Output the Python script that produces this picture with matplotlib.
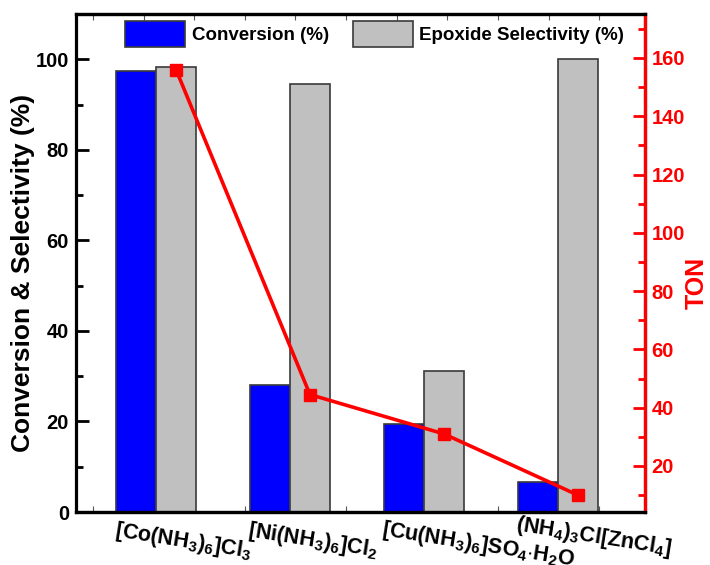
import numpy as np
import matplotlib
matplotlib.use("Agg")
import matplotlib.pyplot as plt
from matplotlib.ticker import MultipleLocator, FixedLocator

plt.rcParams['font.family'] = ['Liberation Sans', 'DejaVu Sans']
plt.rcParams['font.weight'] = 'bold'
plt.rcParams['mathtext.fontset'] = 'custom'
plt.rcParams['mathtext.rm'] = 'Liberation Sans:weight=bold'
plt.rcParams['mathtext.bf'] = 'Liberation Sans:weight=bold'
plt.rcParams['mathtext.it'] = 'Liberation Sans:weight=bold'
plt.rcParams['mathtext.sf'] = 'Liberation Sans:weight=bold'
plt.rcParams['mathtext.default'] = 'bf'

# catalysts and measured values
catalysts = [r'$\mathbf{[Co(NH_3)_6]Cl_3}$', r'$\mathbf{[Ni(NH_3)_6]Cl_2}$',
             r'$\mathbf{[Cu(NH_3)_6]SO_4{\cdot}H_2O}$',
             r'$\mathbf{(NH_4)_3Cl[ZnCl_4]}$']
conversion = [97.4, 28.0, 19.4, 6.6]
selectivity = [98.2, 94.5, 31.1, 100.0]
ton = [156, 44.5, 31, 10]

x = np.arange(len(catalysts))
w = 0.3

fig = plt.figure(figsize=(7.1, 5.65), dpi=100)
ax = fig.add_axes([0.107, 0.0938, 0.801, 0.8815])

ax.bar(x - w / 2, conversion, w, color='#0000FF', edgecolor='#3a3a3a',
       linewidth=1.2, label='Conversion (%)', zorder=2)
ax.bar(x + w / 2, selectivity, w, color='#C0C0C0', edgecolor='#3a3a3a',
       linewidth=1.2, label='Epoxide Selectivity (%)', zorder=2)

ax.set_xlim(-0.597, 3.649)
ax.set_ylim(0, 110)
ax.yaxis.set_major_locator(MultipleLocator(20))
ax.yaxis.set_minor_locator(MultipleLocator(10))
ax.set_ylabel('Conversion & Selectivity (%)', fontsize=19, fontweight='bold')
ax.yaxis.set_label_coords(-0.072, 0.48)

ax.set_xticks([])
ax.xaxis.set_minor_locator(FixedLocator(np.arange(-0.47, 3.6, 0.378)))
ax.tick_params(axis='x', which='minor', direction='in', length=4, width=0.8,
               color='#555555', top=True, bottom=True)
ax.tick_params(axis='y', which='major', direction='in', length=9, width=2,
               labelsize=14.5, pad=5)
ax.tick_params(axis='y', which='minor', direction='in', length=5, width=2)
for lbl in ax.get_yticklabels():
    lbl.set_fontweight('bold')

for s in ax.spines.values():
    s.set_linewidth(2.3)
    s.set_color('black')

# category labels below the axis, slightly slanted
label_y = [-0.012, -0.012, -0.01, 0.0]
for xi, name, yy in zip(x, catalysts, label_y):
    ax.text(xi - w + 0.005, yy, name, transform=ax.get_xaxis_transform(),
            ha='left', va='top', rotation=-9, rotation_mode='anchor',
            fontsize=15.5, fontweight='bold')

ax2 = ax.twinx()
ax2.plot(x + w / 2, ton, color='#FF0000', linewidth=2.6, marker='s',
         markersize=8.5, zorder=5)
ax2.set_ylim(4.2, 175.1)
ax2.yaxis.set_major_locator(MultipleLocator(20))
ax2.yaxis.set_minor_locator(MultipleLocator(10))
ax2.tick_params(axis='y', which='major', direction='in', length=9, width=2,
                colors='#FF0000', labelsize=14.5, pad=5)
ax2.tick_params(axis='y', which='minor', direction='in', length=5, width=2,
                colors='#FF0000')
for lbl in ax2.get_yticklabels():
    lbl.set_fontweight('bold')
ax2.set_ylabel('TON', color='#FF0000', fontsize=18, fontweight='bold')
ax2.yaxis.set_label_coords(1.07, 0.46)
for name, s in ax2.spines.items():
    s.set_linewidth(2.3)
    s.set_color('black')
ax2.spines['left'].set_visible(False)
ax2.spines['right'].set_color('#FF0000')
ax2.set_zorder(ax.get_zorder() + 1)
ax2.patch.set_visible(False)

ax.legend(loc='upper left', bbox_to_anchor=(0.087, 0.985), ncol=2,
          frameon=False, handlelength=3.2, handleheight=1.75,
          handletextpad=0.35, columnspacing=1.25, borderpad=0,
          borderaxespad=0, prop={'weight': 'bold', 'size': 13.5})

fig.savefig('out.png', dpi=100)
